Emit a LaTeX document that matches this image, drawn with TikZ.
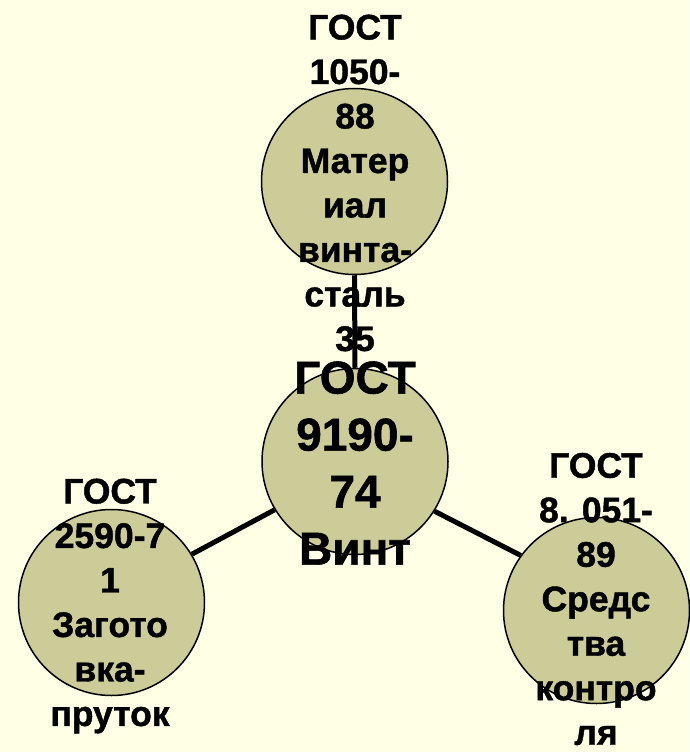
\documentclass[tikz,border=0pt]{standalone}
\usepackage{fontspec}
\setmainfont{Liberation Sans}[BoldFeatures={FakeBold=1.2}]
\definecolor{pagebg}{RGB}{255,255,229}
\definecolor{discfill}{RGB}{204,204,153}
\begin{document}
\begin{tikzpicture}[x=1pt,y=-1pt,
  disc/.style={circle,draw=black,line width=1.5pt,fill=discfill,minimum size=186pt,inner sep=0pt},
  lbl/.style={align=center,font=\bfseries\fontsize{35.5}{44.5}\selectfont,inner sep=0pt},
  biglbl/.style={align=center,font=\bfseries\fontsize{46}{57}\selectfont,inner sep=0pt},
  link/.style={line width=5pt,draw=black}]
  % page
  \fill[pagebg] (0,0) rectangle (689,752);
  \useasboundingbox (0,0) rectangle (689,752);

  % discs
  \node[disc] (top)   at (354.5,181.5) {};
  \node[disc] (mid)   at (355,461.5)   {};
  \node[disc] (left)  at (111.5,602.5) {};
  \node[disc] (right) at (596.5,610.5) {};

  % captions
  \node[lbl] (toptxt) at (355,183) {ГОСТ\\1050-\\88\\Матер\\иал\\винта-\\сталь\\35};
  \node[biglbl] (midtxt) at (355,463) {ГОСТ\\9190-\\74\\Винт};
  \node[lbl] (lefttxt) at (110,606) {ГОСТ\\2590-7\\1\\Загото\\вка-\\пруток};
  \node[lbl] (righttxt) at (596,599) {ГОСТ\\8. 051-\\89\\Средс\\тва\\контро\\ля};

  % connectors
  \draw[link] (top.south) -- (mid.north);
  \draw[link] (mid.211) -- (left.31);
  \draw[link] (mid.328) -- (right.144);
\end{tikzpicture}
\end{document}
